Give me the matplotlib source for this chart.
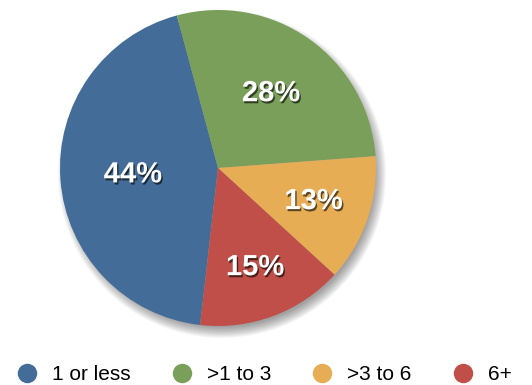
import matplotlib.pyplot as plt
import matplotlib.patheffects as pe
from matplotlib.lines import Line2D
from matplotlib.patches import Circle
import numpy as np

plt.rcParams['font.family'] = ['Liberation Sans', 'DejaVu Sans']

# legend order
categories = ['1 or less', '>1 to 3', '>3 to 6', '6+']
colors = {'1 or less': '#436c98', '>1 to 3': '#7a9f5a', '>3 to 6': '#e6ad55', '6+': '#bf4f48'}
label_dist = {'1 or less': 0.54, '>1 to 3': 0.58, '>3 to 6': 0.64, '6+': 0.67}

# wedge order clockwise: blue, green, orange, red
wedge_labels = ['1 or less', '>1 to 3', '>3 to 6', '6+']
wedge_vals = [44, 28, 13, 15]

fig = plt.figure(figsize=(5.32, 3.85), dpi=100)
ax = fig.add_axes([0, 0, 1, 1])

cx, cy, r = 218, 217, 158

# soft shadow
for k in range(12):
    ax.add_patch(Circle((cx + 4, cy - 6), r + 6 - k, color='black', alpha=0.035, lw=0, zorder=0))

wedges, _ = ax.pie(wedge_vals, colors=[colors[c] for c in wedge_labels], startangle=263.5,
                   counterclock=False, center=(cx, cy), radius=r, frame=True,
                   wedgeprops=dict(linewidth=0))
ax.set_xlim(0, 532)
ax.set_ylim(0, 385)
ax.set_aspect('equal')
ax.axis('off')

for w, lab, v in zip(wedges, wedge_labels, wedge_vals):
    mid = np.deg2rad((w.theta1 + w.theta2) / 2)
    d = label_dist[lab] * r
    ax.text(cx + d * np.cos(mid), cy + d * np.sin(mid), f'{v}%', ha='center', va='center',
            color='white', fontsize=21, fontweight='bold',
            path_effects=[pe.withSimplePatchShadow(offset=(1, -1.5), shadow_rgbFace='black', alpha=0.6)])

handles = [Line2D([], [], marker='o', linestyle='none', markersize=14,
                  markerfacecolor=colors[c], markeredgecolor='none') for c in categories]
fig.legend(handles, categories, loc='lower left', bbox_to_anchor=(0.0, -0.035), ncol=4,
           frameon=False, fontsize=15, handletextpad=0.6, columnspacing=1.85,
           handlelength=1.2, borderpad=0.2)

fig.savefig('out.png', dpi=100)
